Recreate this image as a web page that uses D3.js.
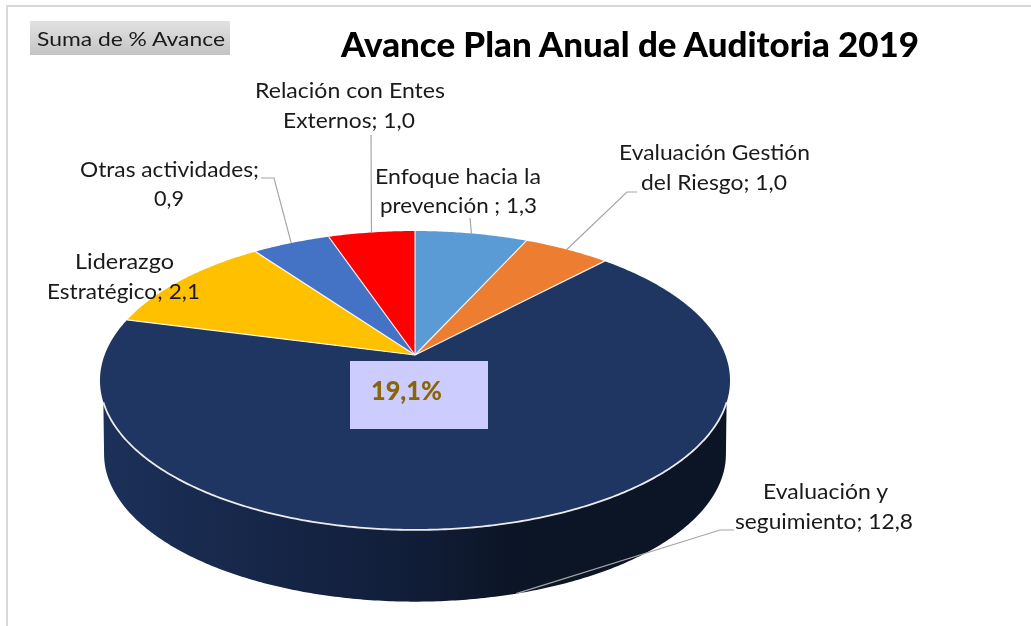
<!DOCTYPE html>
<html>
<head>
    <meta charset="utf-8">
    <title>Avance Plan Anual de Auditoria 2019</title>
    <style>
        html, body { margin: 0; padding: 0; background: #fff; }
        svg { display: block; filter: blur(0.45px); }
        text { font-family: Lato, "Open Sans", sans-serif; }
    </style>
    <script src="https://d3js.org/d3.v7.min.js"></script>
</head>
<body>
<svg width="1031" height="626"></svg>
<script>
    // data, clockwise from 12 o'clock
    var categories = ["Enfoque hacia la prevención", "Evaluación Gestión del Riesgo", "Evaluación y seguimiento",
                      "Liderazgo Estratégico", "Otras actividades", "Relación con Entes Externos"];
    var values = [1.3, 1.0, 12.8, 2.1, 0.9, 1.0];
    var colors = ["#5b9bd5", "#ed7d31", "#1e3661", "#ffc000", "#4472c4", "#ff0000"];
    var labelLines = [
        ["Enfoque hacia la", "prevención ; 1,3"],
        ["Evaluación Gestión", "del Riesgo; 1,0"],
        ["Evaluación y", "seguimiento; 12,8"],
        ["Liderazgo", "Estratégico; 2,1"],
        ["Otras actividades;", "0,9"],
        ["Relación con Entes", "Externos; 1,0"]
    ];
    var totalLabel = "19,1%";
    var fieldLabel = "Suma de % Avance";
    var title = "Avance Plan Anual de Auditoria 2019";

    // layout of the labels: [x start, baseline, width] per line
    var labelBoxes = [
        [[375, 184, 166], [380, 213, 157]],
        [[619, 160, 191], [641, 190, 146]],
        [[763, 499, 125], [735, 529, 178]],
        [[75, 269, 99], [47, 299, 153]],
        [[80, 177, 179], [154, 206, 30]],
        [[255, 98, 190], [283, 128, 132]]
    ];
    // elbows of the leader lines, from text to slice
    var leaderStarts = [
        [[470, 218]],
        [[637, 192], [627, 192]],
        [[734, 530], [720, 530]],
        null,
        [[261, 178], [274, 178]],
        [[371, 135]]
    ];

    var svg = d3.select("svg");
    var defs = svg.append("defs");

    var sideGrad = defs.append("linearGradient").attr("id", "sideGrad")
        .attr("gradientUnits", "userSpaceOnUse")
        .attr("x1", 100).attr("x2", 730).attr("y1", 0).attr("y2", 0);
    sideGrad.append("stop").attr("offset", 0).attr("stop-color", "#1c3059");
    sideGrad.append("stop").attr("offset", 0.5).attr("stop-color", "#111d38");
    sideGrad.append("stop").attr("offset", 0.66).attr("stop-color", "#0c1526");
    sideGrad.append("stop").attr("offset", 1).attr("stop-color", "#0c1526");

    var btnGrad = defs.append("linearGradient").attr("id", "btnGrad")
        .attr("x1", 0).attr("x2", 0).attr("y1", 0).attr("y2", 1);
    btnGrad.append("stop").attr("offset", 0).attr("stop-color", "#e2e2e2");
    btnGrad.append("stop").attr("offset", 1).attr("stop-color", "#c4c4c4");

    // tilted disc: pie angle -> screen, with a bit of perspective
    var cx = 415, cy = 355, a = 310.4, A = 145.1, k = 0.1705;
    var depth = 74, bottomScale = 0.987;

    function project(angle, scale, dy) {
        var u = Math.sin(angle), v = Math.cos(angle), w = 1 + k * v;
        return [cx + scale * a * u / w, cy + dy - scale * A * v / w];
    }
    function rim(start, end, scale, dy) {
        var n = Math.max(2, Math.ceil(Math.abs(end - start) / 0.01));
        return d3.range(n + 1).map(function(i) {
            return project(start + (end - start) * i / n, scale, dy);
        });
    }

    var line = d3.line();
    var rad = Math.PI / 180;

    var arcs = d3.pie().sort(null).startAngle(0).endAngle(2 * Math.PI)(values);

    // chart border (only top and left show)
    svg.append("path").attr("d", "M7,626V6H1031").attr("fill", "none")
        .attr("stroke", "#d9d9d9").attr("stroke-width", 2);

    // field button
    svg.append("rect").attr("x", 30).attr("y", 21).attr("width", 200).attr("height", 34)
        .attr("fill", "url(#btnGrad)");
    svg.append("text").attr("x", 37).attr("y", 46).attr("font-size", 20)
        .attr("textLength", 188).attr("lengthAdjust", "spacingAndGlyphs")
        .attr("fill", "#1a1a1a").text(fieldLabel);

    svg.append("text").attr("x", 341).attr("y", 57).attr("font-size", 35).attr("font-weight", 900)
        .attr("textLength", 578).attr("lengthAdjust", "spacingAndGlyphs")
        .attr("fill", "#000").text(title);

    // side wall
    var frontTop = rim(252 * rad, 108 * rad, 1, 0);
    var frontBottom = rim(100 * rad, 260 * rad, bottomScale, depth);
    svg.append("path").attr("d", line(frontTop.concat(frontBottom)) + "Z")
        .attr("fill", "url(#sideGrad)");

    // slices on top
    svg.selectAll(".slice")
        .data(arcs)
        .enter().append("path")
        .attr("class", "slice")
        .attr("d", function(d) {
            return line([[cx, cy]].concat(rim(d.startAngle, d.endAngle, 1, 0))) + "Z";
        })
        .attr("fill", function(d, i) { return colors[i]; });

    // white separators between the slices, no stroke on the outer edge
    svg.selectAll(".sep")
        .data(arcs)
        .enter().append("path")
        .attr("class", "sep")
        .attr("d", function(d) { return line([[cx, cy], project(d.startAngle, 1, 0)]); })
        .attr("stroke", "#fff")
        .attr("stroke-opacity", 0.9)
        .attr("stroke-width", 1.2);

    // light rim only at the front
    svg.append("path").attr("d", line(frontTop)).attr("fill", "none")
        .attr("stroke", "#ececec").attr("stroke-width", 1.8);

    // leaders
    arcs.forEach(function(d, i) {
        if (!leaderStarts[i]) return;
        var mid = (d.startAngle + d.endAngle) / 2;
        // slices in front end on the bottom rim of the wall
        var front = Math.cos(mid) < -0.5;
        var end = front ? project(mid, bottomScale, depth) : project(mid, 1, 0);
        svg.append("path").attr("class", "leader")
            .attr("d", line(leaderStarts[i].concat([end])))
            .attr("fill", "none").attr("stroke", "#a6a6a6").attr("stroke-width", 1.2);
    });

    // labels
    labelLines.forEach(function(lines, i) {
        lines.forEach(function(txt, j) {
            var b = labelBoxes[i][j];
            svg.append("text").attr("class", "label")
                .attr("x", b[0]).attr("y", b[1]).attr("font-size", 22)
                .attr("textLength", b[2]).attr("lengthAdjust", "spacingAndGlyphs")
                .attr("fill", "#1a1a1a").text(txt);
        });
    });

    // total box in the middle
    svg.append("rect").attr("x", 350).attr("y", 361).attr("width", 138).attr("height", 68)
        .attr("fill", "#ccccff");
    svg.append("text").attr("x", 371).attr("y", 400).attr("font-size", 26).attr("font-weight", 900)
        .attr("textLength", 71).attr("lengthAdjust", "spacingAndGlyphs")
        .attr("fill", "#8a6508").text(totalLabel);
</script>
</body>
</html>
